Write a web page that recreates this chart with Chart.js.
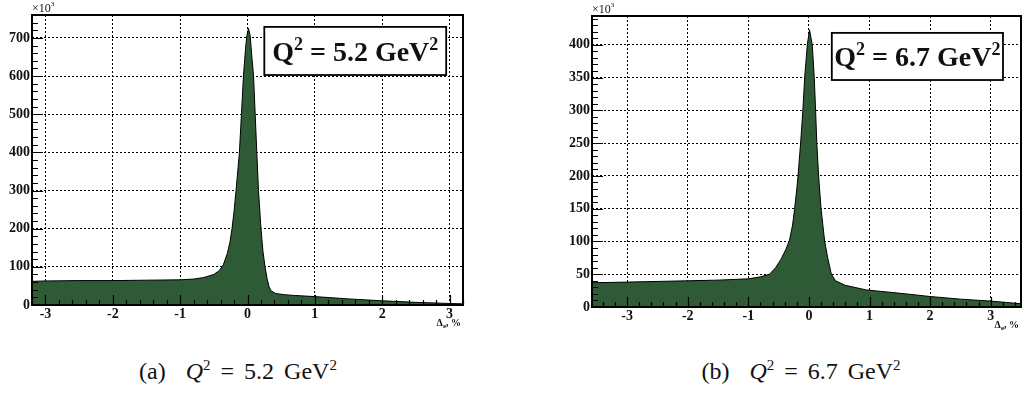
<!DOCTYPE html>
<html>
<head>
<meta charset="utf-8">
<script src="https://cdn.jsdelivr.net/npm/chart.js@4/dist/chart.umd.min.js"></script>
<style>
  html, body { margin: 0; padding: 0; background: #fff; }
  body { width: 1024px; height: 393px; position: relative; overflow: hidden; }
  canvas { position: absolute; top: 0; }
  #chartA { left: 0; }
  #chartB { left: 540px; }
  .caption { position: absolute; top: 356px; height: 30px; line-height: 30px; width: 400px;
             text-align: center; font-family: "Liberation Serif", "Times New Roman", serif; font-size: 24px; color: #111; }
  .caption i { font-style: italic; margin-left: 20px; }
  .caption sup { font-size: 15px; vertical-align: 9px; line-height: 0; }
  .caption .sp { display: inline-block; width: 10px; }
</style>
</head>
<body>
<canvas id="chartA" width="480" height="330"></canvas>
<canvas id="chartB" width="484" height="330"></canvas>
<div class="caption" style="left:38px">(a)<i>Q</i><sup>2</sup><span class="sp"></span>=<span class="sp"></span>5.2<span class="sp"></span>GeV<sup>2</sup></div>
<div class="caption" style="left:601px">(b)<i>Q</i><sup>2</sup><span class="sp"></span>=<span class="sp"></span>6.7<span class="sp"></span>GeV<sup>2</sup></div>
<script>
// panel (a), Q^2 = 5.2 GeV^2 : delta_e in %, counts in 10^3
var deltaA = [-3.2,-3.0,-2.5,-2.0,-1.5,-1.0,-0.8,-0.65,-0.5,-0.42,-0.36,-0.3,-0.26,-0.23,-0.2,-0.17,-0.14,-0.12,-0.09,-0.06,-0.03,-0.01,0.015,0.04,0.065,0.09,0.114,0.138,0.163,0.2,0.23,0.26,0.29,0.32,0.35,0.42,0.55,0.7,1.0,1.5,2.0,2.5,3.0,3.2];
var countsA = [62,63,64,64,65,66,68,72,80,90,105,135,165,200,245,300,360,400,500,600,670,705,725,705,650,600,500,400,300,200,140,100,70,48,37,30,27,25,22,16,11,7,4,3];

// panel (b), Q^2 = 6.7 GeV^2
var deltaB = [-3.58,-3.0,-2.0,-1.5,-1.0,-0.8,-0.65,-0.55,-0.46,-0.38,-0.32,-0.27,-0.236,-0.2,-0.18,-0.137,-0.1,-0.07,-0.027,0.01,0.055,0.088,0.11,0.13,0.16,0.2,0.26,0.31,0.37,0.44,0.6,0.95,1.5,2.0,2.5,3.0,3.5];
var countsB = [37,38,40,41,43,46,50,60,73,88,102,125,150,180,200,250,300,350,400,423,400,350,300,250,200,150,100,75,50,40,33,26,21,16,12,9,5];

var xTicksStep = 1, xMinorStep = 0.2;
var yStepA = 100, yMinorA = 20;
var yStepB = 50, yMinorB = 10;

var GREEN = '#2e5b35';
var SERIF = '"Liberation Serif", "Times New Roman", serif';
var tickFont = { family: SERIF, weight: 'bold', size: 14 };

function toPoints(xs, ys) {
    var pts = [];
    for (var i = 0; i < xs.length; i++) pts.push({ x: xs[i], y: ys[i] });
    return pts;
}

// frame, inward ROOT-style ticks, label box and small axis texts
var rootStyle = {
    id: 'rootStyle',
    afterDatasetsDraw: function (chart, args, o) {
        var ctx = chart.ctx, a = chart.chartArea;
        var xs = chart.scales.x, ys = chart.scales.y;
        ctx.save();
        ctx.strokeStyle = '#000';
        ctx.lineWidth = 1.2;
        ctx.beginPath();
        // y ticks
        var n = Math.round((ys.max - ys.min) / o.yMinor);
        for (var i = 0; i <= n; i++) {
            var v = ys.min + i * o.yMinor;
            var py = Math.round(ys.getPixelForValue(v)) + 0.5;
            var big = Math.abs(v / o.yMajor - Math.round(v / o.yMajor)) < 1e-6;
            ctx.moveTo(a.left, py);
            ctx.lineTo(a.left + (big ? 11 : 6), py);
        }
        // x ticks
        var start = Math.ceil(xs.min / o.xMinor - 1e-6);
        var end = Math.floor(xs.max / o.xMinor + 1e-6);
        for (var k = start; k <= end; k++) {
            var xv = k * o.xMinor;
            var px = Math.round(xs.getPixelForValue(xv)) + 0.5;
            var bigx = Math.abs(xv / o.xMajor - Math.round(xv / o.xMajor)) < 1e-6;
            ctx.moveTo(px, a.bottom);
            ctx.lineTo(px, a.bottom - (bigx ? 10 : 5));
        }
        ctx.stroke();

        // frame
        ctx.lineWidth = 2;
        ctx.strokeRect(a.left, a.top, a.right - a.left, a.bottom - a.top);

        // Q^2 box
        var w = a.right - a.left, h = a.bottom - a.top;
        var bx0 = a.left + o.box[0] * w, bx1 = a.left + o.box[1] * w;
        var by0 = a.top + o.box[2] * h, by1 = a.top + o.box[3] * h;
        ctx.fillStyle = '#fff';
        ctx.fillRect(bx0, by0, bx1 - bx0, by1 - by0);
        ctx.lineWidth = 1.8;
        ctx.strokeRect(bx0, by0, bx1 - bx0, by1 - by0);

        var big = 'bold 28px ' + SERIF, small = 'bold 18px ' + SERIF;
        var parts = [['Q', big, 0], ['2', small, -11], [' = ' + o.q2 + ' GeV', big, 0], ['2', small, -11]];
        var total = 0;
        parts.forEach(function (p) { ctx.font = p[1]; total += ctx.measureText(p[0]).width; });
        var tx = (bx0 + bx1) / 2 - total / 2, base = (by0 + by1) / 2 + 10;
        ctx.fillStyle = '#111';
        ctx.textBaseline = 'alphabetic';
        ctx.textAlign = 'left';
        parts.forEach(function (p) {
            ctx.font = p[1];
            ctx.fillText(p[0], tx, base + p[2]);
            tx += ctx.measureText(p[0]).width;
        });

        // x10^3
        ctx.font = '12px ' + SERIF;
        ctx.fillText('\u00d710', a.left, a.top - 3);
        var wx = ctx.measureText('\u00d710').width;
        ctx.font = '7px ' + SERIF;
        ctx.fillText('3', a.left + wx, a.top - 9);

        // axis title
        ctx.font = 'bold 10px ' + SERIF;
        var t1 = '\u0394', t3 = ', %';
        var w1 = ctx.measureText(t1).width, w3 = ctx.measureText(t3).width;
        ctx.font = 'bold 7px ' + SERIF;
        var w2 = ctx.measureText('e').width;
        var ax = a.right - 2 - (w1 + w2 + w3), ay = a.bottom + 21;
        ctx.font = 'bold 10px ' + SERIF;
        ctx.fillText(t1, ax, ay);
        ctx.font = 'bold 7px ' + SERIF;
        ctx.fillText('e', ax + w1, ay + 2);
        ctx.font = 'bold 10px ' + SERIF;
        ctx.fillText(t3, ax + w1 + w2, ay);
        ctx.restore();
    }
};

function drawPanel(id, xs, ys, cfg) {
    var ctx = document.getElementById(id).getContext('2d');
    return new Chart(ctx, {
        type: 'line',
        data: {
            datasets: [{
                data: toPoints(xs, ys),
                borderColor: '#000',
                borderWidth: 1,
                backgroundColor: GREEN,
                fill: 'origin',
                pointRadius: 0,
                tension: 0
            }]
        },
        options: {
            responsive: false,
            animation: false,
            layout: { padding: { top: cfg.padTop, right: cfg.padRight, left: 0, bottom: 0 } },
            plugins: {
                legend: { display: false },
                tooltip: { enabled: false },
                rootStyle: {
                    yMajor: cfg.yStep, yMinor: cfg.yMinor,
                    xMajor: xTicksStep, xMinor: xMinorStep,
                    box: cfg.box, q2: cfg.q2
                }
            },
            scales: {
                x: {
                    type: 'linear', min: cfg.xMin, max: cfg.xMax,
                    ticks: { stepSize: xTicksStep, includeBounds: false, color: '#111', font: tickFont, padding: 1, maxRotation: 0, autoSkip: false },
                    grid: { color: '#000', lineWidth: 1, drawTicks: false },
                    border: { display: false, dash: [2, 2] },
                    afterFit: function (s) { s.height = cfg.xAxisH; }
                },
                y: {
                    min: 0, max: cfg.yMax,
                    ticks: { stepSize: cfg.yStep, includeBounds: false, color: '#111', font: tickFont, padding: 2 },
                    grid: { color: '#000', lineWidth: 1, drawTicks: false },
                    border: { display: false, dash: [2, 2] },
                    afterFit: function (s) { s.width = cfg.yAxisW; }
                }
            }
        },
        plugins: [rootStyle]
    });
}

function drawAll() {
    drawPanel('chartA', deltaA, countsA, {
        xMin: -3.2, xMax: 3.2, yMax: 760, yStep: yStepA, yMinor: yMinorA,
        padTop: 15, padRight: 17, xAxisH: 25, yAxisW: 32,
        box: [0.539, 0.961, 0.041, 0.207], q2: '5.2'
    });
    drawPanel('chartB', deltaB, countsB, {
        xMin: -3.58, xMax: 3.5, yMax: 444, yStep: yStepB, yMinor: yMinorB,
        padTop: 16, padRight: 3, xAxisH: 23, yAxisW: 52,
        box: [0.559, 0.958, 0.058, 0.22], q2: '6.7'
    });
}

Promise.all([
    document.fonts.load('bold 28px "Liberation Serif"'),
    document.fonts.load('12px "Liberation Serif"')
]).then(drawAll, drawAll);
</script>
</body>
</html>
